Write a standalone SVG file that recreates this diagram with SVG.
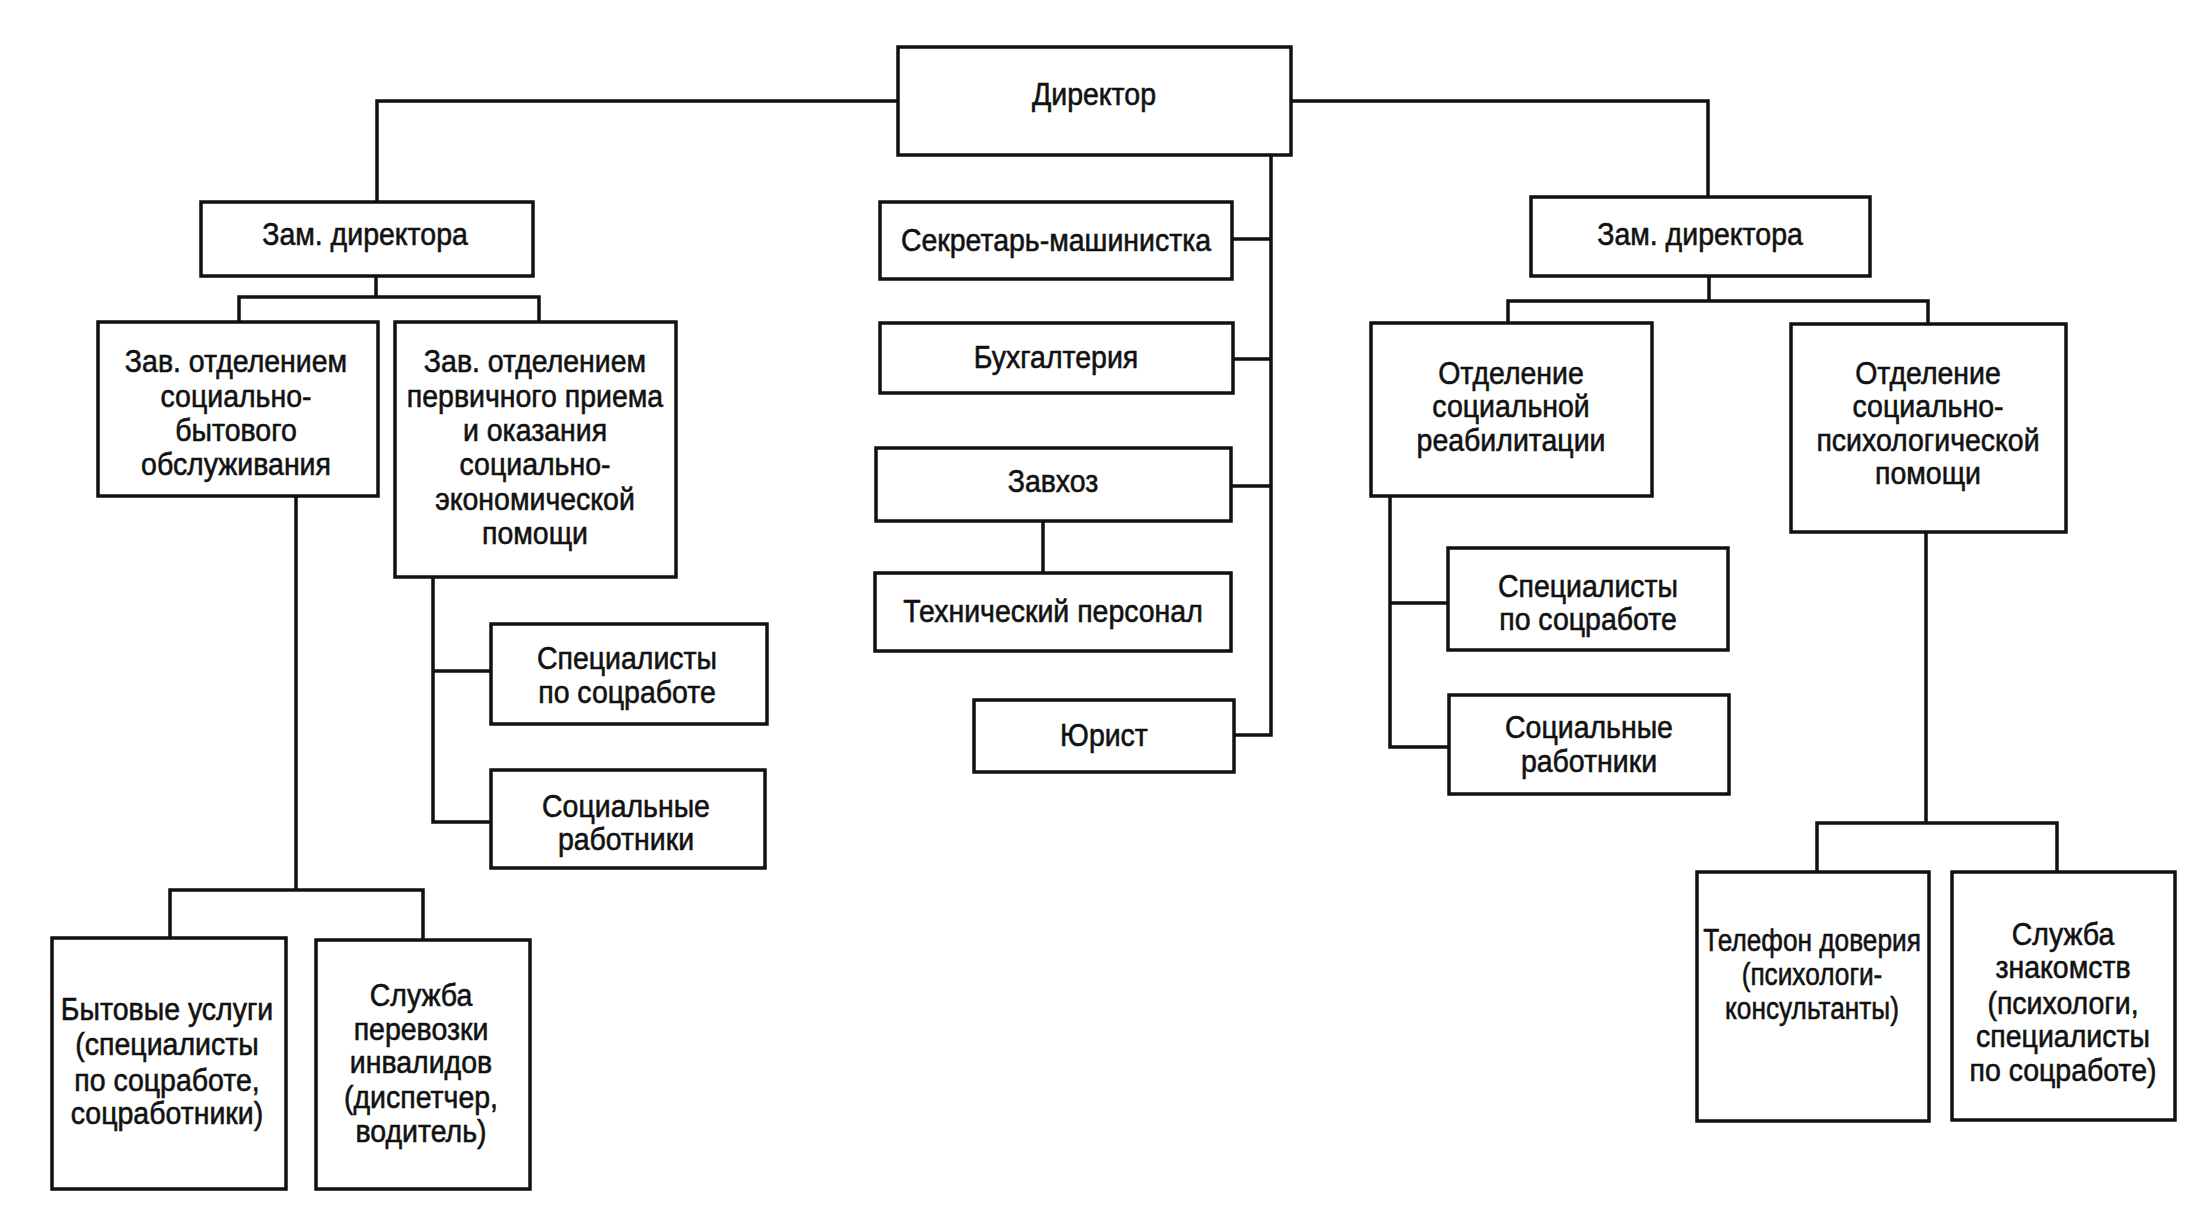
<svg xmlns="http://www.w3.org/2000/svg" width="2207" height="1218" viewBox="0 0 2207 1218">
<style>
.b{fill:#fff;stroke:#111;stroke-width:3.5}
.c{fill:none;stroke:#111;stroke-width:3.5}
text{font-family:"Liberation Sans",Arial,sans-serif;font-size:32px;fill:#111;stroke:#111;stroke-width:0.6;text-anchor:middle}
</style>
<rect width="2207" height="1218" fill="#fff"/>
<g id="connectors">
<path class="c" d="M898 101H377V202"/>
<path class="c" d="M1291 101H1708V197"/>
<path class="c" d="M1271 155V735H1234"/>
<path class="c" d="M1232 239H1271M1233 359H1271M1231 486H1271"/>
<path class="c" d="M1043 521V573"/>
<path class="c" d="M376 276V297M239 322V297H539V322"/>
<path class="c" d="M433 577V822H491M433 671H491"/>
<path class="c" d="M296 496V890M170 938V890H423V940"/>
<path class="c" d="M1709 276V301M1508 323V301H1928V324"/>
<path class="c" d="M1390 496V747H1449M1390 603H1448"/>
<path class="c" d="M1926 532V823M1817 872V823H2057V872"/>
</g>
<g id="director"><rect class="b" x="898" y="47" width="393" height="108"/><text transform="translate(1094 0) scale(0.89 1)"><tspan x="0" y="105">Директор</tspan></text></g>
<g id="zam-left"><rect class="b" x="201" y="202" width="332" height="74"/><text transform="translate(365 0) scale(0.89 1)"><tspan x="0" y="245">Зам. директора</tspan></text></g>
<g id="zav-byt"><rect class="b" x="98" y="322" width="280" height="174"/><text transform="translate(236 0) scale(0.89 1)"><tspan x="0" y="372">Зав. отделением</tspan><tspan x="0" y="407">социально-</tspan><tspan x="0" y="441">бытового</tspan><tspan x="0" y="475">обслуживания</tspan></text></g>
<g id="zav-perv"><rect class="b" x="395" y="322" width="281" height="255"/><text transform="translate(535 0) scale(0.89 1)"><tspan x="0" y="372">Зав. отделением</tspan><tspan x="0" y="407">первичного приема</tspan><tspan x="0" y="441">и оказания</tspan><tspan x="0" y="475">социально-</tspan><tspan x="0" y="510">экономической</tspan><tspan x="0" y="544">помощи</tspan></text></g>
<g id="spec-left"><rect class="b" x="491" y="624" width="276" height="100"/><text transform="translate(627 0) scale(0.89 1)"><tspan x="0" y="669">Специалисты</tspan><tspan x="0" y="703">по соцработе</tspan></text></g>
<g id="socw-left"><rect class="b" x="491" y="770" width="274" height="98"/><text transform="translate(626 0) scale(0.89 1)"><tspan x="0" y="817">Социальные</tspan><tspan x="0" y="850">работники</tspan></text></g>
<g id="byt"><rect class="b" x="52" y="938" width="234" height="251"/><text transform="translate(167 0) scale(0.89 1)"><tspan x="0" y="1020">Бытовые услуги</tspan><tspan x="0" y="1055">(специалисты</tspan><tspan x="0" y="1091">по соцработе,</tspan><tspan x="0" y="1124">соцработники)</tspan></text></g>
<g id="perevozka"><rect class="b" x="316" y="940" width="214" height="249"/><text transform="translate(421 0) scale(0.89 1)"><tspan x="0" y="1006">Служба</tspan><tspan x="0" y="1040">перевозки</tspan><tspan x="0" y="1073">инвалидов</tspan><tspan x="0" y="1108">(диспетчер,</tspan><tspan x="0" y="1142">водитель)</tspan></text></g>
<g id="secretary"><rect class="b" x="880" y="202" width="352" height="77"/><text transform="translate(1056 0) scale(0.89 1)"><tspan x="0" y="251">Секретарь-машинистка</tspan></text></g>
<g id="buh"><rect class="b" x="880" y="323" width="353" height="70"/><text transform="translate(1056 0) scale(0.89 1)"><tspan x="0" y="368">Бухгалтерия</tspan></text></g>
<g id="zavhoz"><rect class="b" x="876" y="448" width="355" height="73"/><text transform="translate(1053 0) scale(0.89 1)"><tspan x="0" y="492">Завхоз</tspan></text></g>
<g id="tech"><rect class="b" x="875" y="573" width="356" height="78"/><text transform="translate(1053 0) scale(0.89 1)"><tspan x="0" y="622">Технический персонал</tspan></text></g>
<g id="jurist"><rect class="b" x="974" y="700" width="260" height="72"/><text transform="translate(1104 0) scale(0.89 1)"><tspan x="0" y="746">Юрист</tspan></text></g>
<g id="zam-right"><rect class="b" x="1531" y="197" width="339" height="79"/><text transform="translate(1700 0) scale(0.89 1)"><tspan x="0" y="245">Зам. директора</tspan></text></g>
<g id="reab"><rect class="b" x="1371" y="323" width="281" height="173"/><text transform="translate(1511 0) scale(0.89 1)"><tspan x="0" y="384">Отделение</tspan><tspan x="0" y="417">социальной</tspan><tspan x="0" y="451">реабилитации</tspan></text></g>
<g id="psych"><rect class="b" x="1791" y="324" width="275" height="208"/><text transform="translate(1928 0) scale(0.89 1)"><tspan x="0" y="384">Отделение</tspan><tspan x="0" y="417">социально-</tspan><tspan x="0" y="451">психологической</tspan><tspan x="0" y="484">помощи</tspan></text></g>
<g id="spec-right"><rect class="b" x="1448" y="548" width="280" height="102"/><text transform="translate(1588 0) scale(0.89 1)"><tspan x="0" y="597">Специалисты</tspan><tspan x="0" y="630">по соцработе</tspan></text></g>
<g id="socw-right"><rect class="b" x="1449" y="695" width="280" height="99"/><text transform="translate(1589 0) scale(0.89 1)"><tspan x="0" y="738">Социальные</tspan><tspan x="0" y="772">работники</tspan></text></g>
<g id="telefon"><rect class="b" x="1697" y="872" width="232" height="249"/><text transform="translate(1812 0) scale(0.82 1)"><tspan x="0" y="951">Телефон доверия</tspan><tspan x="0" y="985">(психологи-</tspan><tspan x="0" y="1019">консультанты)</tspan></text></g>
<g id="znakomstva"><rect class="b" x="1952" y="872" width="223" height="248"/><text transform="translate(2063 0) scale(0.89 1)"><tspan x="0" y="945">Служба</tspan><tspan x="0" y="978">знакомств</tspan><tspan x="0" y="1014">(психологи,</tspan><tspan x="0" y="1047">специалисты</tspan><tspan x="0" y="1081">по соцработе)</tspan></text></g>
</svg>
